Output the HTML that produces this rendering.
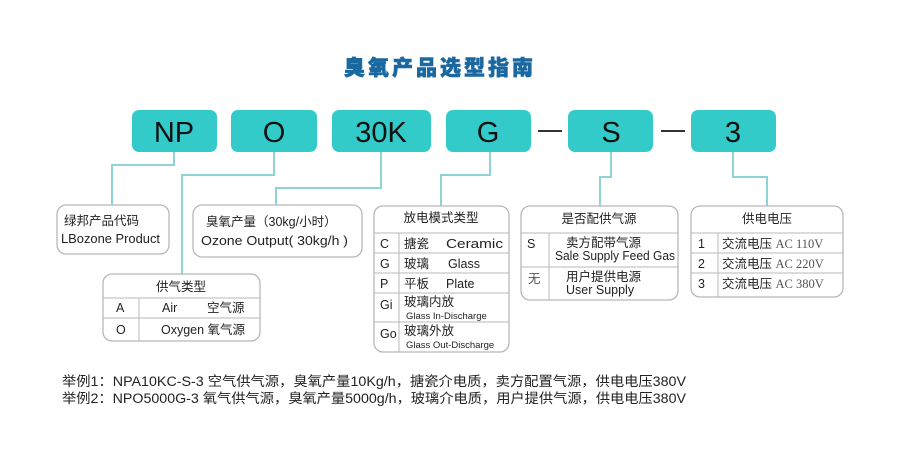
<!DOCTYPE html>
<html><head><meta charset="utf-8"><style>
html,body{margin:0;padding:0;background:#fff;}
svg{display:block;font-family:"Liberation Sans","Noto Sans CJK SC",sans-serif;}
</style></head><body>
<svg width="900" height="464" viewBox="0 0 900 464" xmlns="http://www.w3.org/2000/svg">
<text x="440" y="75" text-anchor="middle" font-size="21" font-weight="900" fill="#1b68a0" letter-spacing="3" stroke="#1b68a0" stroke-width="0.6">臭氧产品选型指南</text>
<g fill="#33cbc9">
<rect x="132" y="110" width="85" height="42" rx="7"/>
<rect x="231" y="110" width="86" height="42" rx="7"/>
<rect x="332" y="110" width="99" height="42" rx="7"/>
<rect x="446" y="110" width="85" height="42" rx="7"/>
<rect x="568" y="110" width="85" height="42" rx="7"/>
<rect x="691" y="110" width="85" height="42" rx="7"/>
</g>
<g stroke="#333" stroke-width="2"><line x1="538" y1="131" x2="562" y2="131"/><line x1="661" y1="131" x2="685" y2="131"/></g>
<g font-size="29" fill="#111" text-anchor="middle">
<text x="174" y="142" transform="scale(1,1)">NP</text><text x="274" y="142">O</text><text x="381" y="142">30K</text>
<text x="488" y="142">G</text><text x="611" y="142">S</text><text x="733" y="142">3</text>
</g>
<g fill="none" stroke="#8fd4d4" stroke-width="2">
<polyline points="174,152 174,165 112,165 112,205"/>
<polyline points="274,152 274,175 182,175 182,274"/>
<polyline points="381,152 381,188 276,188 276,205"/>
<polyline points="490,152 490,175 441,175 441,206"/>
<polyline points="611,152 611,177 600,177 600,206"/>
<polyline points="733,152 733,177 767,177 767,206"/>
</g>
<g fill="#fff" stroke="#b8b8b8" stroke-width="1.3">
<rect x="57" y="205" width="112" height="49" rx="9"/>
<rect x="193" y="205" width="169" height="52" rx="9"/>
<rect x="103" y="274" width="157" height="67" rx="9"/>
<rect x="374" y="206" width="135" height="146" rx="9"/>
<rect x="521" y="206" width="157" height="94" rx="9"/>
<rect x="691" y="206" width="152" height="91" rx="9"/>
</g>
<g stroke="#b8b8b8" stroke-width="1">
<line x1="103" y1="298" x2="260" y2="298"/><line x1="103" y1="318" x2="260" y2="318"/><line x1="139" y1="298" x2="139" y2="341"/>
<line x1="374" y1="233" x2="509" y2="233"/><line x1="374" y1="253" x2="509" y2="253"/><line x1="374" y1="273" x2="509" y2="273"/><line x1="374" y1="293" x2="509" y2="293"/><line x1="374" y1="322" x2="509" y2="322"/><line x1="399" y1="233" x2="399" y2="352"/>
<line x1="521" y1="233" x2="678" y2="233"/><line x1="521" y1="267" x2="678" y2="267"/><line x1="549" y1="233" x2="549" y2="300"/>
<line x1="691" y1="233" x2="843" y2="233"/><line x1="691" y1="253" x2="843" y2="253"/><line x1="691" y1="273" x2="843" y2="273"/><line x1="718" y1="233" x2="718" y2="297"/>
</g>
<g font-size="12.5" fill="#222">
<text x="64" y="225">绿邦产品代码</text>
<text x="61" y="243" font-size="12.5" textLength="99" lengthAdjust="spacingAndGlyphs">LBozone Product</text>
<text x="206" y="226">臭氧产量（30kg/小时）</text>
<text x="201" y="245" textLength="147" lengthAdjust="spacingAndGlyphs">Ozone Output( 30kg/h )</text>
<text x="181" y="291" text-anchor="middle">供气类型</text>
<text x="116" y="312">A</text><text x="162" y="312">Air</text><text x="207" y="312">空气源</text>
<text x="116" y="334">O</text><text x="161" y="334">Oxygen 氧气源</text>
<text x="441" y="222" text-anchor="middle">放电模式类型</text>
<text x="380" y="248">C</text><text x="404" y="248">搪瓷</text><text x="446" y="248" textLength="57" lengthAdjust="spacingAndGlyphs">Ceramic</text>
<text x="380" y="268">G</text><text x="404" y="268">玻璃</text><text x="448" y="268">Glass</text>
<text x="380" y="288">P</text><text x="404" y="288">平板</text><text x="446" y="288">Plate</text>
<text x="380" y="309">Gi</text><text x="404" y="306">玻璃内放</text><text x="406" y="319" font-size="9.5">Glass In-Discharge</text>
<text x="380" y="338">Go</text><text x="404" y="335">玻璃外放</text><text x="406" y="348" font-size="9.5">Glass Out-Discharge</text>
<text x="599" y="223" text-anchor="middle">是否配供气源</text>
<text x="527" y="248">S</text><text x="566" y="247">卖方配带气源</text><text x="555" y="260" textLength="120" lengthAdjust="spacingAndGlyphs">Sale Supply Feed Gas</text>
<text x="528" y="283" fill="#555">无</text><text x="566" y="281">用户提供电源</text><text x="566" y="294">User Supply</text>
<text x="767" y="223" text-anchor="middle">供电电压</text>
<text x="698" y="248">1</text><text x="722" y="248">交流电压 <tspan font-family="Liberation Serif" fill="#555">AC 110V</tspan></text>
<text x="698" y="268">2</text><text x="722" y="268">交流电压 <tspan font-family="Liberation Serif" fill="#555">AC 220V</tspan></text>
<text x="698" y="288">3</text><text x="722" y="288">交流电压 <tspan font-family="Liberation Serif" fill="#555">AC 380V</tspan></text>
</g>
<g font-size="13.5" fill="#222">
<text x="62" y="386" textLength="624" lengthAdjust="spacingAndGlyphs">举例1：NPA10KC-S-3 空气供气源，臭氧产量10Kg/h，搪瓷介电质，卖方配置气源，供电电压380V</text>
<text x="62" y="403" textLength="624" lengthAdjust="spacingAndGlyphs">举例2：NPO5000G-3 氧气供气源，臭氧产量5000g/h，玻璃介电质，用户提供气源，供电电压380V</text>
</g>
</svg>
</body></html>
